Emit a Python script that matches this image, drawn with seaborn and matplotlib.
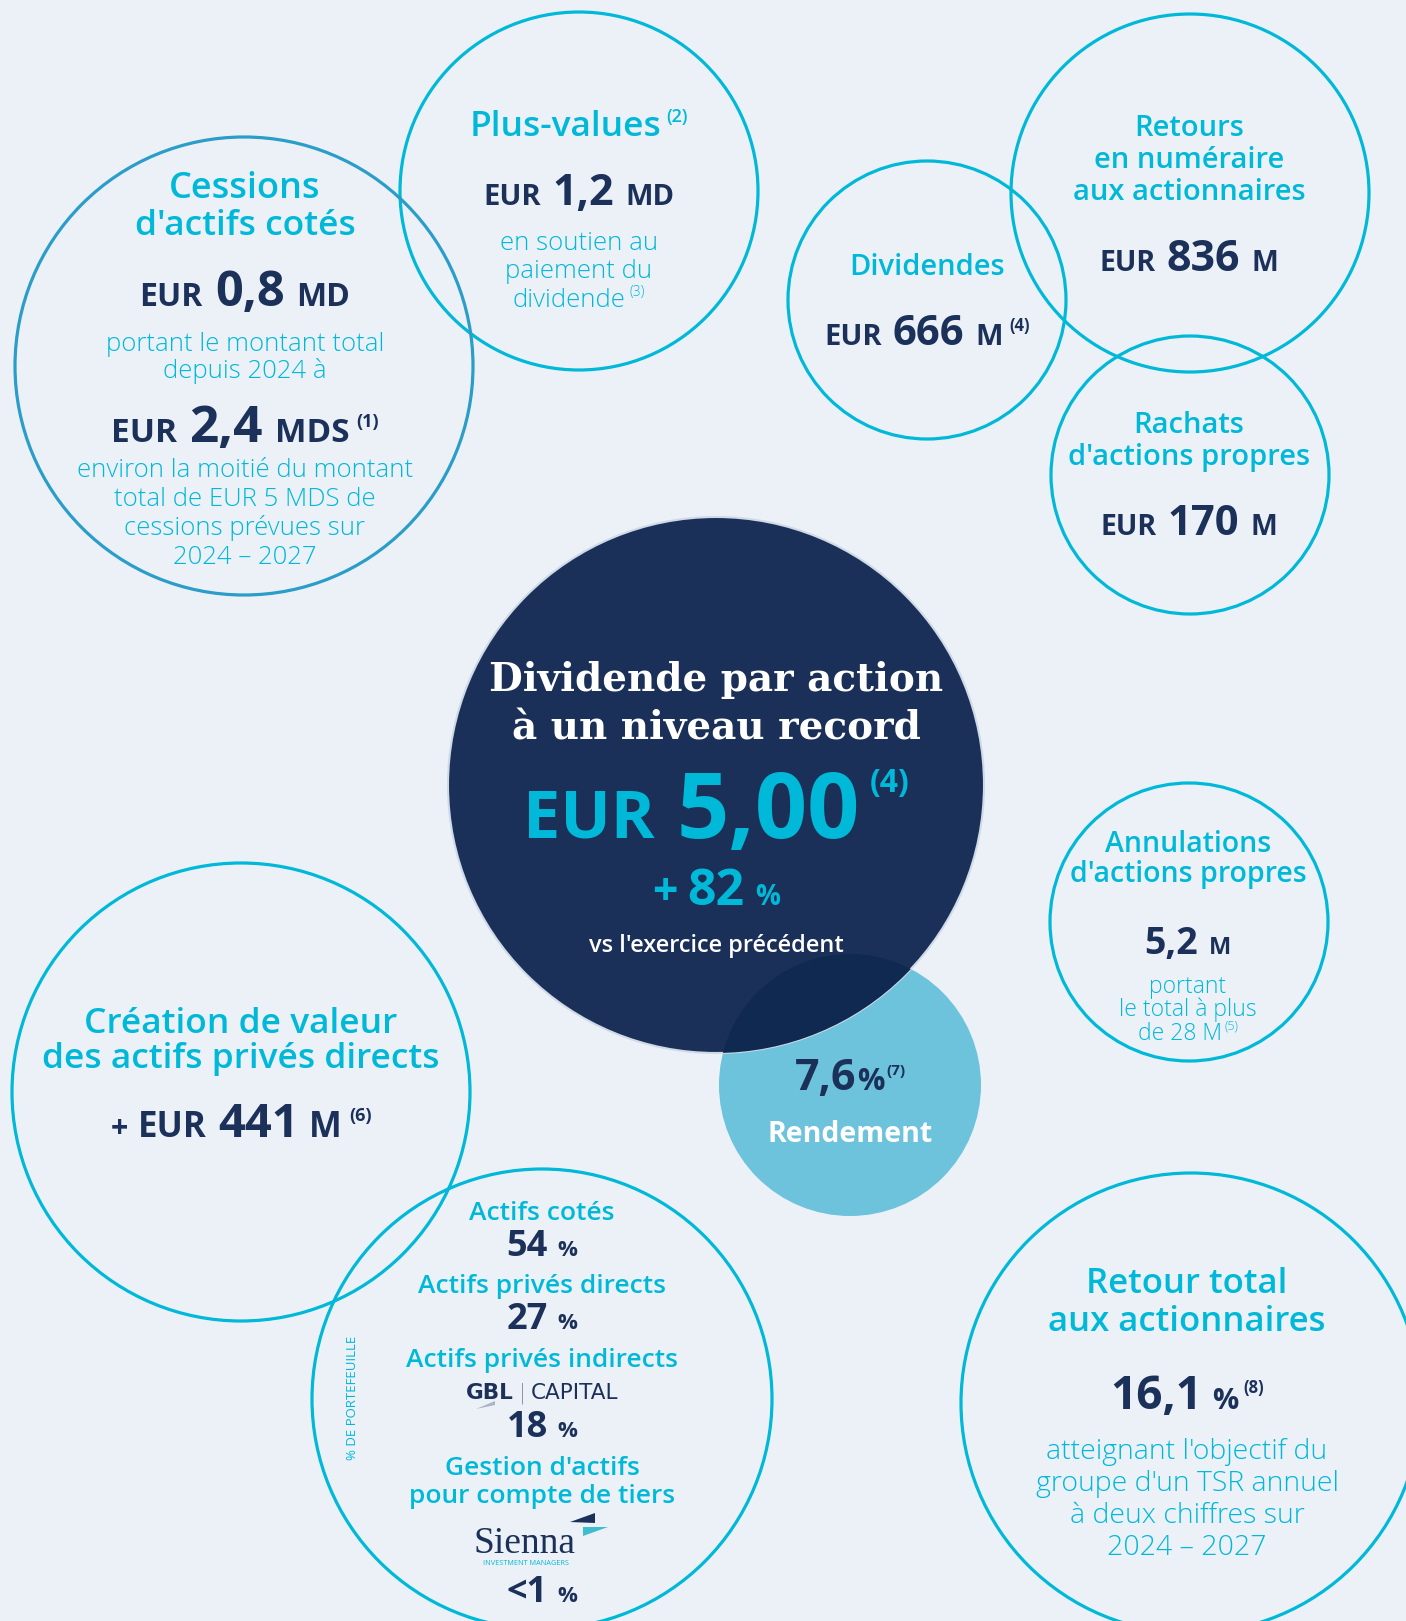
import matplotlib
matplotlib.use("Agg")
import matplotlib.pyplot as plt
from matplotlib.patches import Circle, Polygon
import seaborn as sns

# --- DATOS ---
cessions_md = "0,8"
cessions_total_mds = "2,4"
cessions_objectif_mds = "5"
plus_values_md = "1,2"
dividendes_m = "666"
retours_m = "836"
rachats_m = "170"
dps_eur = "5,00"
dps_croissance = "82"
rendement_pct = "7,6"
annulations_m = "5,2"
annulations_total_m = "28"
creation_m = "441"
tsr_pct = "16,1"
portefeuille_labels = ["Actifs cotés", "Actifs privés directs", "Actifs privés indirects",
                       "Gestion d'actifs\npour compte de tiers"]
portefeuille_pct = ["54", "27", "18", "<1"]

# --- ESTILO ---
BG = "#ecf1f8"
CYAN = "#00b8d8"
NAVY = "#1c3159"
DARK = "#1b3058"
CLARO = "#6cc3db"
SOLAPE = "#0f2950"
SANS = "Open Sans"
SERIF = "DejaVu Serif"

sns.set_theme(style="white", rc={"figure.facecolor": BG, "axes.facecolor": BG})
plt.rcParams["font.family"] = [SANS, "DejaVu Sans"]

W, H = 1406, 1621
fig = plt.figure(figsize=(W / 100, H / 100), dpi=100)
ax = fig.add_axes([0, 0, 1, 1])
ax.set_xlim(0, W)
ax.set_ylim(H, 0)
ax.axis("off")
ren = fig.canvas.get_renderer()

# circulos con borde (cx, cy, r, color)
aros = [
    (579, 191, 179, CYAN),
    (244, 366, 229, "#2a9dc8"),
    (927, 300, 139, CYAN),
    (1190, 193, 179, CYAN),
    (1190, 475, 139, CYAN),
    (1189, 922, 139, CYAN),
    (241, 1092, 229, CYAN),
    (542, 1399, 230, CYAN),
    (1191, 1403, 230, CYAN),
]
for cx, cy, r, col in aros:
    ax.add_patch(Circle((cx, cy), r, fill=False, ec=col, lw=2.3, zorder=1))

# rendement + circulo central + solape
ax.add_patch(Circle((850, 1085), 131, fc=CLARO, ec="none", zorder=2))
central = Circle((716, 785), 268, fc=DARK, ec="#cfdae8", lw=1.5, zorder=3)
ax.add_patch(central)
solape = Circle((850, 1085), 131, fc=SOLAPE, ec="none", zorder=4)
ax.add_patch(solape)
solape.set_clip_path(central)


def linea(cx, y, partes):
    objs, anchos = [], []
    for p in partes:
        t = ax.text(0, y - p.get("up", 0), p["t"], fontsize=p["fs"], fontweight=p.get("w", "bold"),
                    color=p.get("c", NAVY), family=p.get("f", [SANS, "DejaVu Sans"]),
                    va="baseline", ha="left", zorder=6)
        objs.append(t)
        anchos.append(t.get_window_extent(ren).width)
    gaps = [p.get("gap", 0) for p in partes]
    total = sum(anchos) + sum(gaps[1:])
    x = cx - total / 2
    for i, (t, w) in enumerate(zip(objs, anchos)):
        if i > 0:
            x += gaps[i]
        t.set_x(x)
        x += w


def centro(cx, y, s, fs, w="semibold", c=CYAN, f=None, **kw):
    ax.text(cx, y, s, fontsize=fs, fontweight=w, color=c, family=f or [SANS, "DejaVu Sans"],
            ha="center", va="baseline", zorder=6, **kw)


def cuerpo(cx, y0, lineas, fs, paso, c=CYAN):
    for i, s in enumerate(lineas):
        centro(cx, y0 + i * paso, s, fs, w="light", c=c)


# --- Cessions ---
centro(245, 198, "Cessions", 26)
centro(245, 235, "d'actifs cotés", 25.5)
linea(245, 306, [dict(t="EUR", fs=23), dict(t=cessions_md, fs=35, gap=12), dict(t="MD", fs=23, gap=12)])
cuerpo(245, 351, ["portant le montant total", "depuis 2024 à"], 18.5, 27)
linea(245, 442, [dict(t="EUR", fs=24), dict(t=cessions_total_mds, fs=37, gap=12),
                 dict(t="MDS", fs=24, gap=12), dict(t="(1)", fs=13, up=15, gap=7)])
cuerpo(245, 477, ["environ la moitié du montant",
                  f"total de EUR {cessions_objectif_mds} MDS de",
                  "cessions prévues sur", "2024 – 2027"], 18.5, 29)

# --- Plus-values ---
linea(579, 136, [dict(t="Plus-values", fs=25.5, w="semibold", c=CYAN),
                 dict(t="(2)", fs=13, w="semibold", c=CYAN, up=14, gap=5)])
linea(579, 205, [dict(t="EUR", fs=21), dict(t=plus_values_md, fs=31, gap=11), dict(t="MD", fs=21, gap=11)])
cuerpo(579, 250, ["en soutien au", "paiement du"], 18.5, 28)
linea(579, 307, [dict(t="dividende", fs=18.5, w="light", c=CYAN),
                 dict(t="(3)", fs=10, w="light", c=CYAN, up=11, gap=4)])

# --- Dividendes ---
centro(927, 275, "Dividendes", 21)
linea(927, 345, [dict(t="EUR", fs=21), dict(t=dividendes_m, fs=30, gap=11), dict(t="M", fs=21, gap=11),
                 dict(t="(4)", fs=12, up=14, gap=6)])

# --- Retours ---
centro(1189, 136, "Retours", 21)
centro(1189, 168, "en numéraire", 21)
centro(1189, 200, "aux actionnaires", 21)
linea(1189, 271, [dict(t="EUR", fs=20.5), dict(t=retours_m, fs=31, gap=11), dict(t="M", fs=20.5, gap=11)])

# --- Rachats ---
centro(1189, 433, "Rachats", 21)
centro(1189, 465, "d'actions propres", 21)
linea(1189, 535, [dict(t="EUR", fs=20.5), dict(t=rachats_m, fs=30, gap=11), dict(t="M", fs=20.5, gap=11)])

# --- Annulations ---
centro(1188, 852, "Annulations", 20.5)
centro(1188, 882, "d'actions propres", 20.5)
linea(1188, 954, [dict(t=annulations_m, fs=27), dict(t="M", fs=17, gap=11)])
cuerpo(1188, 993, ["portant", "le total à plus"], 16.5, 23)
linea(1188, 1040, [dict(t=f"de {annulations_total_m} M", fs=16.5, w="light", c=CYAN),
                   dict(t="(5)", fs=9, w="light", c=CYAN, up=10, gap=3)])

# --- Centro ---
centro(716, 691, "Dividende par action", 28, w="bold", c="white", f=SERIF)
centro(716, 740, "à un niveau record", 28, w="bold", c="white", f=SERIF)
linea(716, 838, [dict(t="EUR", fs=48, c=CYAN), dict(t=dps_eur, fs=66, c=CYAN, gap=22),
                 dict(t="(4)", fs=23, c=CYAN, up=46, gap=10)])
linea(716, 905, [dict(t="+", fs=32, c=CYAN), dict(t=dps_croissance, fs=36, c=CYAN, gap=10),
                 dict(t="%", fs=20, c=CYAN, gap=11)])
centro(716, 952, "vs l'exercice précédent", 17, w="semibold", c="white")

# --- Rendement ---
linea(850, 1090, [dict(t=rendement_pct, fs=31), dict(t="%", fs=22, gap=1), dict(t="(7)", fs=11, up=15, gap=2)])
centro(850, 1142, "Rendement", 20.5, w="bold", c="white")

# --- Création ---
centro(241, 1033, "Création de valeur", 25.5)
centro(241, 1068, "des actifs privés directs", 25.5)
linea(241, 1137, [dict(t="+", fs=22), dict(t="EUR", fs=25, gap=10), dict(t=creation_m, fs=34, gap=12),
                  dict(t="M", fs=25, gap=10), dict(t="(6)", fs=13, up=16, gap=7)])

# --- Portefeuille ---
PX = 542
centro(PX, 1220, portefeuille_labels[0], 19)
linea(PX, 1256, [dict(t=portefeuille_pct[0], fs=26), dict(t="%", fs=16, gap=10)])
centro(PX, 1293, portefeuille_labels[1], 19)
linea(PX, 1329, [dict(t=portefeuille_pct[1], fs=26), dict(t="%", fs=16, gap=10)])
centro(PX, 1367, portefeuille_labels[2], 19)
linea(PX, 1399, [dict(t="GBL", fs=15.5, f="DejaVu Sans"),
                 dict(t="|", fs=15, w="light", c="#8895a8", f="DejaVu Sans", gap=5),
                 dict(t="CAPITAL", fs=15.5, w="normal", f="DejaVu Sans", gap=5)])
ax.add_patch(Polygon([(476, 1409), (495, 1401), (495, 1405)], closed=True, fc="#aab5c3", ec="none", zorder=6))
linea(PX, 1437, [dict(t=portefeuille_pct[2], fs=26), dict(t="%", fs=16, gap=10)])
lab3 = portefeuille_labels[3].split("\n")
centro(PX, 1475, lab3[0], 19)
centro(PX, 1503, lab3[1], 19)
centro(525, 1553, "Sienna", 27, w="normal", c=NAVY, f="Liberation Serif")
centro(526, 1565, "INVESTMENT MANAGERS", 5.2, w="normal", c=CYAN)
ax.add_patch(Polygon([(570, 1522), (595, 1513), (595, 1523)], closed=True, fc=NAVY, ec="none", zorder=6))
ax.add_patch(Polygon([(583, 1527), (608, 1527), (583, 1536)], closed=True, fc="#3fbccd", ec="none", zorder=6))
linea(PX, 1602, [dict(t=portefeuille_pct[3], fs=26), dict(t="%", fs=16, gap=10)])
ax.text(353, 1398, "% DE PORTEFEUILLE", fontsize=9.5, color=CYAN, rotation=90, ha="center", va="center",
        fontweight="normal", zorder=6)

# --- Retour total ---
centro(1187, 1293, "Retour total", 25)
centro(1187, 1331, "aux actionnaires", 25)
linea(1187, 1409, [dict(t=tsr_pct, fs=33), dict(t="%", fs=21, gap=10), dict(t="(8)", fs=12, up=16, gap=5)])
cuerpo(1187, 1459, ["atteignant l'objectif du", "groupe d'un TSR annuel",
                    "à deux chiffres sur", "2024 – 2027"], 20.5, 32)

fig.savefig("out.png", dpi=100, facecolor=BG)
